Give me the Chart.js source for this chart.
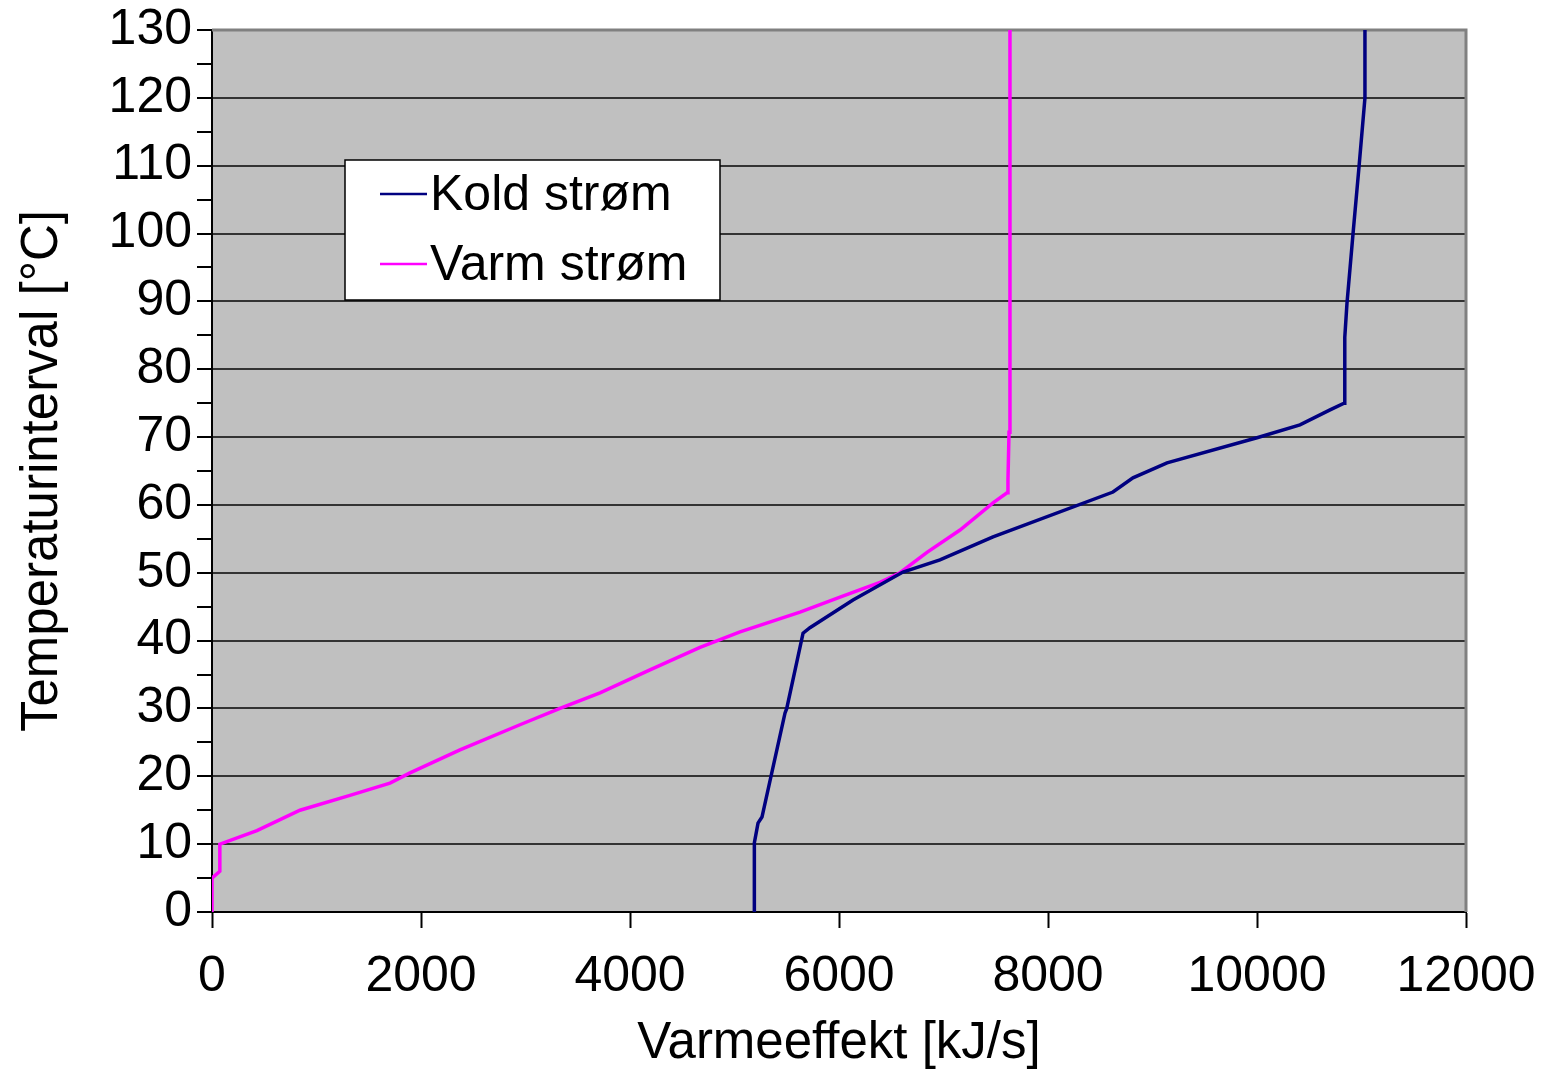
<!DOCTYPE html>
<html>
<head>
<meta charset="utf-8">
<title>Varmeeffekt</title>
<script src="https://cdn.jsdelivr.net/npm/chart.js@4.4.1/dist/chart.umd.min.js"></script>
<style>
  body { margin: 0; background: #fff; }
  canvas { display: block; }
</style>
</head>
<body>
<canvas id="chart" width="1549" height="1069"></canvas>
<script>
// Composite curves: heat load [kJ/s] vs temperature interval [°C]
const koldLabel = 'Kold strøm';
const koldX = [5190, 5190, 5225, 5263, 5483, 5500, 5656, 5722, 6134, 6612, 6966, 7474, 8622, 8813, 9139, 10000, 10411, 10699, 10833, 10840, 10861, 10919, 10976, 11033, 11033];
const koldT = [0, 10.2, 13.1, 14, 29.3, 30, 41.1, 41.9, 46, 50.1, 51.9, 55.3, 61.9, 64, 66.2, 69.9, 71.8, 74, 75, 84.7, 89.7, 100, 109.8, 120, 130];

const varmLabel = 'Varm strøm';
const varmX = [0, 0, 75, 75, 430, 842, 1320, 1703, 1895, 2373, 2947, 3330, 3713, 4191, 4670, 5053, 5627, 6010, 6392, 6584, 6842, 7158, 7474, 7608, 7617, 7627, 7636];
const varmT = [0, 5, 6, 10, 12, 15, 17.2, 19, 20.5, 23.9, 27.6, 30, 32.3, 35.7, 39, 41.3, 44.2, 46.4, 48.6, 50, 53, 56.3, 60.3, 61.8, 63.7, 70.7, 130];

const FONT = 'Liberation Sans, Arial, sans-serif';

function toPoints(xs, ys) {
  return xs.map((x, i) => ({ x: x, y: ys[i] }));
}

// grey plot area, grey frame on top/right
const plotArea = {
  id: 'plotArea',
  beforeDraw(chart) {
    const { ctx, chartArea: a } = chart;
    ctx.save();
    ctx.fillStyle = '#c0c0c0';
    ctx.fillRect(a.left, a.top, a.right - a.left, a.bottom - a.top);
    ctx.restore();
  },
  beforeDatasetsDraw(chart) {
    const { ctx, chartArea: a } = chart;
    ctx.save();
    ctx.strokeStyle = '#808080';
    ctx.lineWidth = 3;
    ctx.beginPath();
    ctx.moveTo(a.left, a.top);
    ctx.lineTo(a.right, a.top);
    ctx.lineTo(a.right, a.bottom);
    ctx.stroke();
    ctx.restore();
  }
};

// boxed legend inside the plot
const boxLegend = {
  id: 'boxLegend',
  afterDatasetsDraw(chart) {
    const ctx = chart.ctx;
    ctx.save();
    ctx.fillStyle = '#fff';
    ctx.fillRect(345, 160, 375, 140);
    ctx.strokeStyle = '#000';
    ctx.lineWidth = 1.5;
    ctx.strokeRect(345, 160, 375, 140);
    ctx.font = '50px ' + FONT;
    ctx.textBaseline = 'middle';
    chart.data.datasets.forEach((ds, i) => {
      const y = 194 + i * 70;
      ctx.strokeStyle = ds.borderColor;
      ctx.lineWidth = 2.5;
      ctx.beginPath();
      ctx.moveTo(380, y);
      ctx.lineTo(427, y);
      ctx.stroke();
      ctx.fillStyle = '#000';
      ctx.fillText(ds.label, 430, y + 2);
    });
    ctx.restore();
  }
};

new Chart(document.getElementById('chart'), {
  type: 'scatter',
  data: {
    datasets: [
      {
        label: koldLabel,
        data: toPoints(koldX, koldT),
        borderColor: '#000080',
        backgroundColor: '#000080',
        borderWidth: 3.5,
        showLine: true,
        pointRadius: 0,
        tension: 0
      },
      {
        label: varmLabel,
        data: toPoints(varmX, varmT),
        borderColor: '#ff00ff',
        backgroundColor: '#ff00ff',
        borderWidth: 3.5,
        showLine: true,
        pointRadius: 0,
        tension: 0
      }
    ]
  },
  options: {
    responsive: false,
    animation: false,
    layout: { padding: { left: 17, right: 83, top: 30, bottom: 0 } },
    plugins: {
      legend: { display: false },
      tooltip: { enabled: false }
    },
    scales: {
      x: {
        type: 'linear',
        min: 0,
        max: 12000,
        afterFit: s => { s.height = 157; s.paddingRight = 83; s.paddingLeft = 0; },
        ticks: {
          stepSize: 2000,
          autoSkip: false,
          maxRotation: 0,
          padding: 24,
          color: '#000',
          font: { family: FONT, size: 50, lineHeight: 1 },
          callback: v => String(v)
        },
        grid: { drawOnChartArea: false, tickLength: 16, tickColor: '#000', tickWidth: 2 },
        border: { color: '#000', width: 2 },
        title: {
          display: true,
          text: 'Varmeeffekt [kJ/s]',
          color: '#000',
          padding: 0,
          font: { family: FONT, size: 51, lineHeight: 1 }
        }
      },
      y: {
        min: 0,
        max: 130,
        afterFit: s => { s.width = 195; },
        ticks: {
          stepSize: 5,
          autoSkip: false,
          padding: 5,
          color: '#000',
          font: { family: FONT, size: 50, lineHeight: 1 },
          callback: v => (v % 10 === 0 ? String(v) : '')
        },
        grid: {
          tickLength: 15,
          tickColor: '#000',
          tickWidth: 2,
          color: c => (c.tick && c.tick.value % 10 === 0 && c.tick.value > 0 && c.tick.value < 130 ? '#333' : 'rgba(0,0,0,0)'),
          lineWidth: 2
        },
        border: { color: '#000', width: 2 },
        title: {
          display: true,
          text: 'Temperaturinterval [°C]',
          color: '#000',
          padding: 0,
          font: { family: FONT, size: 51, lineHeight: 1 }
        }
      }
    }
  },
  plugins: [plotArea, boxLegend]
});
</script>
</body>
</html>
